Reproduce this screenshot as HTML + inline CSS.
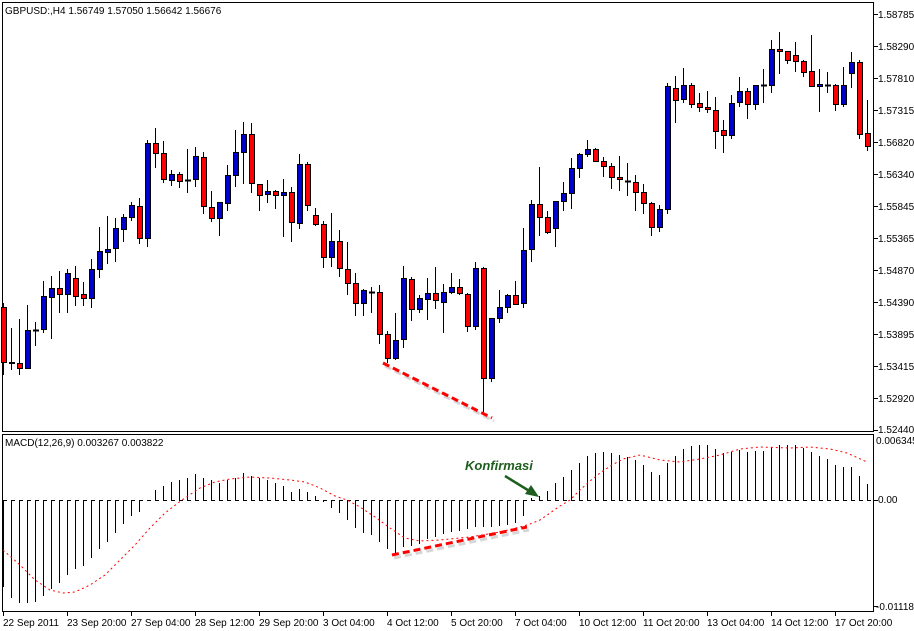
<!DOCTYPE html>
<html><head><meta charset="utf-8"><style>
html,body{margin:0;padding:0;background:#fff;}
svg{display:block;font-family:"Liberation Sans",sans-serif;font-size:10px;}
</style></head><body>
<svg width="914" height="631" viewBox="0 0 914 631" xmlns="http://www.w3.org/2000/svg">
<rect width="914" height="631" fill="#fff"/>
<g fill="none" stroke="#000" shape-rendering="crispEdges">
<rect x="2.5" y="2.5" width="871" height="429"/>
<rect x="2.5" y="434.5" width="871" height="177"/>
</g>
<text x="5" y="14" fill="#000">GBPUSD:,H4  1.56749 1.57050 1.56642 1.56676</text>
<text x="5" y="446" fill="#000">MACD(12,26,9) 0.003267 0.003822</text>
<g stroke="#000" shape-rendering="crispEdges">
<line x1="874" y1="14.5" x2="878" y2="14.5"/><line x1="874" y1="46.5" x2="878" y2="46.5"/><line x1="874" y1="78.5" x2="878" y2="78.5"/><line x1="874" y1="110.5" x2="878" y2="110.5"/><line x1="874" y1="142.5" x2="878" y2="142.5"/><line x1="874" y1="174.5" x2="878" y2="174.5"/><line x1="874" y1="206.5" x2="878" y2="206.5"/><line x1="874" y1="238.5" x2="878" y2="238.5"/><line x1="874" y1="270.5" x2="878" y2="270.5"/><line x1="874" y1="302.5" x2="878" y2="302.5"/><line x1="874" y1="334.5" x2="878" y2="334.5"/><line x1="874" y1="366.5" x2="878" y2="366.5"/><line x1="874" y1="398.5" x2="878" y2="398.5"/><line x1="874" y1="430.5" x2="878" y2="430.5"/>
<line x1="874" y1="500.5" x2="878" y2="500.5"/><line x1="874" y1="606.5" x2="878" y2="606.5"/>
</g>
<g fill="#000">
<text x="878" y="18">1.58785</text><text x="878" y="50">1.58290</text><text x="878" y="82">1.57810</text><text x="878" y="114">1.57315</text><text x="878" y="146">1.56820</text><text x="878" y="178">1.56340</text><text x="878" y="210">1.55845</text><text x="878" y="242">1.55365</text><text x="878" y="274">1.54870</text><text x="878" y="306">1.54390</text><text x="878" y="338">1.53895</text><text x="878" y="370">1.53415</text><text x="878" y="402">1.52920</text><text x="878" y="433">1.52440</text>
<text x="876" y="444">0.006345</text><text x="878" y="503">0.00</text><text x="876" y="610">-0.01118</text>
</g>
<g stroke="#000" shape-rendering="crispEdges">
<line x1="3.5" y1="612" x2="3.5" y2="616"/><line x1="67.5" y1="612" x2="67.5" y2="616"/><line x1="131.5" y1="612" x2="131.5" y2="616"/><line x1="195.5" y1="612" x2="195.5" y2="616"/><line x1="259.5" y1="612" x2="259.5" y2="616"/><line x1="323.5" y1="612" x2="323.5" y2="616"/><line x1="387.5" y1="612" x2="387.5" y2="616"/><line x1="451.5" y1="612" x2="451.5" y2="616"/><line x1="515.5" y1="612" x2="515.5" y2="616"/><line x1="579.5" y1="612" x2="579.5" y2="616"/><line x1="643.5" y1="612" x2="643.5" y2="616"/><line x1="707.5" y1="612" x2="707.5" y2="616"/><line x1="771.5" y1="612" x2="771.5" y2="616"/><line x1="835.5" y1="612" x2="835.5" y2="616"/>
</g>
<g fill="#000">
<text x="3" y="626">22 Sep 2011</text><text x="67" y="626">23 Sep 20:00</text><text x="131" y="626">27 Sep 04:00</text><text x="195" y="626">28 Sep 12:00</text><text x="259" y="626">29 Sep 20:00</text><text x="323" y="626">3 Oct 04:00</text><text x="387" y="626">4 Oct 12:00</text><text x="451" y="626">5 Oct 20:00</text><text x="515" y="626">7 Oct 04:00</text><text x="579" y="626">10 Oct 12:00</text><text x="643" y="626">11 Oct 20:00</text><text x="707" y="626">13 Oct 04:00</text><text x="771" y="626">14 Oct 12:00</text><text x="835" y="626">17 Oct 20:00</text>
</g>
<g shape-rendering="crispEdges">
<path fill="none" stroke="#000" d="M3.5 303V375M11.5 328V370M19.5 319V375M27.5 305V368M35.5 322V346M43.5 281V333M51.5 276V339M59.5 271V313M67.5 269V313M75.5 266V306M83.5 282V306M91.5 259V308M99.5 227V278M107.5 216V264M115.5 218V262M123.5 214V242M131.5 202V221M139.5 198V244M147.5 140V247M155.5 128V168M163.5 141V183M171.5 170V186M179.5 172V188M187.5 149V193M195.5 147V187M203.5 152V214M211.5 191V222M219.5 202V236M227.5 165V211M235.5 130V187M243.5 122V184M251.5 123V193M259.5 184V211M267.5 180V203M275.5 190V209M283.5 179V237M291.5 187V242M299.5 154V229M307.5 162V211M315.5 208V226M323.5 221V268M331.5 213V267M339.5 230V277M347.5 242V295M355.5 273V316M363.5 289V316M371.5 287V313M379.5 285V344M387.5 331V363M395.5 313V360M403.5 266V348M411.5 277V321M419.5 295V313M427.5 278V320M435.5 267V309M443.5 284V333M451.5 273V294M459.5 279V295M467.5 293V332M475.5 262V330M483.5 267V412M491.5 318V382M499.5 290V323M507.5 294V313M515.5 281V305M523.5 228V308M531.5 200V262M539.5 167V236M547.5 211V234M555.5 201V247M563.5 182V211M571.5 158V209M579.5 153V178M587.5 140V157M595.5 148V161M603.5 157V177M611.5 163V189M619.5 156V191M627.5 163V196M635.5 175V211M643.5 184V214M651.5 202V236M659.5 205V232M667.5 83V214M675.5 76V123M683.5 68V103M691.5 83V108M699.5 93V112M707.5 91V113M715.5 97V149M723.5 120V153M731.5 95V139M739.5 77V107M747.5 88V119M755.5 85V110M763.5 69V103M771.5 40V93M779.5 32V74M787.5 51V64M795.5 42V72M803.5 60V77M811.5 35V87M819.5 69V112M827.5 72V93M835.5 84V111M843.5 67V107M851.5 52V88M859.5 60V139M867.5 100V151"/>
<path fill="none" stroke="#000" stroke-width="2" d="M33 330.5h6M185 180.5h6M369 292.5h6M625 181.5h6M761 85.5h6M825 85.5h6"/>
<path fill="#f00" stroke="#000" d="M1.5 307.5h5v55h-5zM9.5 362.5h5v1h-5zM17.5 363.5h5v5h-5zM57.5 288.5h5v6h-5zM73.5 278.5h5v18h-5zM81.5 294.5h5v4h-5zM137.5 206.5h5v32h-5zM153.5 143.5h5v10h-5zM161.5 153.5h5v26h-5zM177.5 174.5h5v7h-5zM201.5 157.5h5v49h-5zM209.5 207.5h5v11h-5zM249.5 134.5h5v49h-5zM257.5 184.5h5v11h-5zM273.5 191.5h5v4h-5zM289.5 192.5h5v30h-5zM305.5 164.5h5v41h-5zM313.5 215.5h5v9h-5zM321.5 224.5h5v33h-5zM337.5 241.5h5v27h-5zM345.5 269.5h5v14h-5zM353.5 283.5h5v20h-5zM377.5 292.5h5v42h-5zM385.5 334.5h5v24h-5zM409.5 279.5h5v30h-5zM433.5 293.5h5v7h-5zM457.5 287.5h5v6h-5zM465.5 294.5h5v32h-5zM481.5 268.5h5v110h-5zM513.5 295.5h5v9h-5zM537.5 204.5h5v13h-5zM545.5 217.5h5v15h-5zM593.5 149.5h5v12h-5zM601.5 161.5h5v5h-5zM609.5 166.5h5v11h-5zM617.5 177.5h5v2h-5zM633.5 182.5h5v10h-5zM641.5 192.5h5v11h-5zM649.5 203.5h5v24h-5zM673.5 88.5h5v12h-5zM689.5 85.5h5v19h-5zM697.5 103.5h5v4h-5zM705.5 107.5h5v2h-5zM713.5 110.5h5v21h-5zM721.5 130.5h5v5h-5zM745.5 91.5h5v13h-5zM777.5 49.5h5v2h-5zM785.5 51.5h5v9h-5zM793.5 55.5h5v6h-5zM801.5 61.5h5v11h-5zM809.5 71.5h5v15h-5zM833.5 85.5h5v19h-5zM857.5 62.5h5v72h-5zM865.5 133.5h5v13h-5z"/>
<path fill="#0000cd" stroke="#000" d="M25.5 330.5h5v38h-5zM41.5 296.5h5v33h-5zM49.5 288.5h5v9h-5zM65.5 273.5h5v21h-5zM89.5 269.5h5v29h-5zM97.5 251.5h5v18h-5zM105.5 249.5h5v3h-5zM113.5 228.5h5v20h-5zM121.5 217.5h5v12h-5zM129.5 205.5h5v12h-5zM145.5 143.5h5v95h-5zM169.5 174.5h5v6h-5zM193.5 156.5h5v23h-5zM217.5 202.5h5v16h-5zM225.5 175.5h5v28h-5zM233.5 152.5h5v23h-5zM241.5 134.5h5v18h-5zM265.5 191.5h5v3h-5zM281.5 192.5h5v3h-5zM297.5 164.5h5v59h-5zM329.5 241.5h5v16h-5zM361.5 290.5h5v13h-5zM393.5 340.5h5v18h-5zM401.5 278.5h5v61h-5zM417.5 298.5h5v11h-5zM425.5 293.5h5v6h-5zM441.5 292.5h5v10h-5zM449.5 287.5h5v5h-5zM473.5 268.5h5v58h-5zM489.5 318.5h5v60h-5zM497.5 307.5h5v11h-5zM505.5 295.5h5v12h-5zM521.5 250.5h5v53h-5zM529.5 204.5h5v45h-5zM553.5 201.5h5v27h-5zM561.5 193.5h5v8h-5zM569.5 168.5h5v25h-5zM577.5 154.5h5v14h-5zM585.5 149.5h5v5h-5zM657.5 209.5h5v18h-5zM665.5 86.5h5v123h-5zM681.5 85.5h5v14h-5zM729.5 103.5h5v32h-5zM737.5 91.5h5v11h-5zM753.5 85.5h5v19h-5zM769.5 49.5h5v36h-5zM817.5 84.5h5v2h-5zM841.5 85.5h5v19h-5zM849.5 62.5h5v11h-5z"/>
</g>
<line x1="3" y1="500.5" x2="873" y2="500.5" stroke="#000" stroke-dasharray="4 4" shape-rendering="crispEdges"/>
<path fill="none" stroke="#000" stroke-width="1.3" shape-rendering="crispEdges" d="M3.5 500V587M11.5 500V598M19.5 500V603M27.5 500V603M35.5 500V602M43.5 500V596M51.5 500V589M59.5 500V583M67.5 500V575M75.5 500V569M83.5 500V566M91.5 500V558M99.5 500V549M107.5 500V542M115.5 500V533M123.5 500V524M131.5 500V516M139.5 500V512M155.5 500V490M163.5 500V486M171.5 500V482M179.5 500V480M187.5 500V478M195.5 500V474M203.5 500V478M211.5 500V480M219.5 500V483M227.5 500V480M235.5 500V478M243.5 500V473M251.5 500V476M259.5 500V478M267.5 500V480M275.5 500V483M283.5 500V486M291.5 500V492M299.5 500V489M307.5 500V492M315.5 500V496M323.5 500V502M331.5 500V508M339.5 500V513M347.5 500V520M355.5 500V528M363.5 500V533M371.5 500V535M379.5 500V542M387.5 500V549M395.5 500V553M403.5 500V547M411.5 500V546M419.5 500V544M427.5 500V539M435.5 500V537M443.5 500V534M451.5 500V532M459.5 500V531M467.5 500V529M475.5 500V527M483.5 500V527M491.5 500V527M499.5 500V526M507.5 500V525M515.5 500V523M523.5 500V516M531.5 500V498M539.5 500V496M547.5 500V491M555.5 500V483M563.5 500V477M571.5 500V470M579.5 500V463M587.5 500V456M595.5 500V453M603.5 500V452M611.5 500V453M619.5 500V455M627.5 500V457M635.5 500V460M643.5 500V465M651.5 500V472M659.5 500V475M667.5 500V463M675.5 500V456M683.5 500V449M691.5 500V446M699.5 500V445M707.5 500V445M715.5 500V449M723.5 500V453M731.5 500V452M739.5 500V450M747.5 500V452M755.5 500V451M763.5 500V451M771.5 500V447M779.5 500V445M787.5 500V445M795.5 500V445M803.5 500V448M811.5 500V452M819.5 500V456M827.5 500V459M835.5 500V465M843.5 500V467M851.5 500V467M859.5 500V476M867.5 500V484"/>
<polyline fill="none" stroke="#f00" stroke-width="1" stroke-dasharray="2 3" points="3,550 20,565 35,580 50,590 63,593 75,592 90,585 105,575 120,560 135,545 150,528 165,513 182,500 200,488 215,482 230,479 250,477 270,478 290,480 305,482 320,488 335,496 347,500 360,507 375,517 390,528 405,538 420,541 440,540 470,537 500,532 520,527 530,524 540,520 550,513 560,506 570,500 580,490 590,481 600,473 612,465 623,459 640,455 660,460 680,462 700,459 720,455 740,449 760,447 790,448 810,447 830,449 847,453 867,462"/>
<line x1="385" y1="366" x2="494" y2="421" stroke="#bbb" stroke-width="3" stroke-dasharray="7 4" opacity="0.6"/>
<line x1="383" y1="363" x2="492" y2="418" stroke="#f00" stroke-width="3" stroke-dasharray="7 4"/>
<line x1="394" y1="558" x2="529" y2="530" stroke="#bbb" stroke-width="3" stroke-dasharray="7 4" opacity="0.6"/>
<line x1="392" y1="555" x2="527" y2="527" stroke="#f00" stroke-width="3" stroke-dasharray="7 4"/>
<text x="465" y="470" fill="#1e5e1e" font-size="13" font-weight="bold" font-style="italic">Konfirmasi</text>
<line x1="505" y1="476" x2="531" y2="492" stroke="#1e5e1e" stroke-width="2.5"/>
<polygon points="539,497 525,494 531,485" fill="#1e5e1e"/>
</svg>
</body></html>
